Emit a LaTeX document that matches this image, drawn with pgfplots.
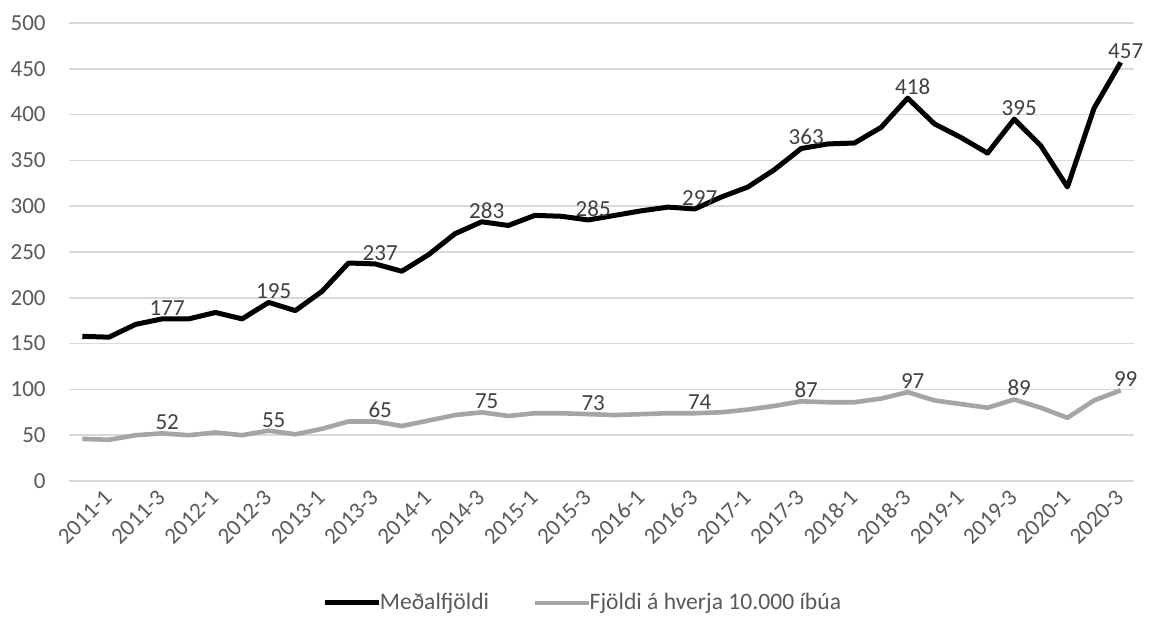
\documentclass[border=0pt]{standalone}
\usepackage{pgfplots}
\pgfplotsset{compat=1.18}
\usepackage{pgfplotstable}
\usepackage{fontspec}
\setmainfont{Carlito}
\definecolor{gridc}{HTML}{D9D9D9}
\definecolor{tickc}{HTML}{595959}
\definecolor{labc}{HTML}{404040}
\definecolor{grayline}{HTML}{A5A5A5}

\pgfplotstableread{
idx medal fjoldi
0 158 46
1 157 45
2 171 50
3 177 52
4 177 50
5 184 53
6 177 50
7 195 55
8 186 51
9 207 57
10 238 65
11 237 65
12 229 60
13 247 66
14 270 72
15 283 75
16 279 71
17 290 74
18 289 74
19 285 73
20 290 72
21 295 73
22 299 74
23 297 74
24 310 75
25 321 78
26 340 82
27 363 87
28 368 86
29 369 86
30 386 90
31 418 97
32 390 88
33 375 84
34 358 80
35 395 89
36 366 80
37 321 69
38 407 88
39 457 99
}\datatable

\begin{document}
\begin{tikzpicture}
\useasboundingbox (-34.5pt,-68pt) rectangle (543pt,240.5pt);
\begin{axis}[
  at={(0,0)}, anchor=south west,
  scale only axis,
  width=532.5pt, height=229pt,
  xmin=-0.5, xmax=39.5,
  ymin=0, ymax=500,
  ytick={0,50,...,500},
  xtick={0,2,...,38},
  xticklabels={2011-1,2011-3,2012-1,2012-3,2013-1,2013-3,2014-1,2014-3,2015-1,2015-3,2016-1,2016-3,2017-1,2017-3,2018-1,2018-3,2019-1,2019-3,2020-1,2020-3},
  axis line style={draw=none},
  major tick length=0pt,
  ymajorgrids,
  grid style={gridc, line width=0.75pt},
  tick label style={font=\fontsize{11.5}{14}\selectfont, text=tickc},
  /pgf/number format/assume math mode=true,
  yticklabel style={anchor=east, inner sep=0pt, xshift=-11.5pt},
  xticklabel style={rotate=45, anchor=east, inner sep=0pt, xshift=4.7pt, yshift=-13.6pt},
  legend columns=2,
  legend style={draw=none, fill=none, at={(0.4836,-0.266)}, anchor=center,
    font=\fontsize{11.8}{14}\selectfont, text=tickc,
    /tikz/every even column/.append style={column sep=20pt},
    inner sep=0pt},
  legend cell align=left,
  legend image code/.code={\draw[#1] (0pt,0pt) -- (27pt,0pt);},
  clip=false,
]
\addplot[black, line width=2.5pt, line join=round] table[x=idx, y=medal] {\datatable};
\addlegendentry{\hspace{-3pt}Meðalfjöldi}
\addplot[grayline, line width=2.3pt, line join=round] table[x=idx, y=fjoldi] {\datatable};
\addlegendentry{\hspace{-3pt}Fjöldi á hverja 10.000 íbúa}

\addplot[draw=none, forget plot, x filter/.expression={mod(\coordindex,4)==3 ? x : nan},
  nodes near coords, point meta=explicit,
  every node near coord/.append style={font=\fontsize{11.5}{14}\selectfont, text=labc, anchor=south, inner sep=1.5pt, xshift=2.5pt},
  nodes near coords style={/pgf/number format/assume math mode=true}]
  table[x=idx, y=medal, meta=medal] {\datatable};
\addplot[draw=none, forget plot, x filter/.expression={mod(\coordindex,4)==3 ? x : nan},
  nodes near coords, point meta=explicit,
  every node near coord/.append style={font=\fontsize{11.5}{14}\selectfont, text=labc, anchor=south, inner sep=1.5pt, xshift=2.5pt},
  nodes near coords style={/pgf/number format/assume math mode=true}]
  table[x=idx, y=fjoldi, meta=fjoldi] {\datatable};
\end{axis}
\end{tikzpicture}
\end{document}
